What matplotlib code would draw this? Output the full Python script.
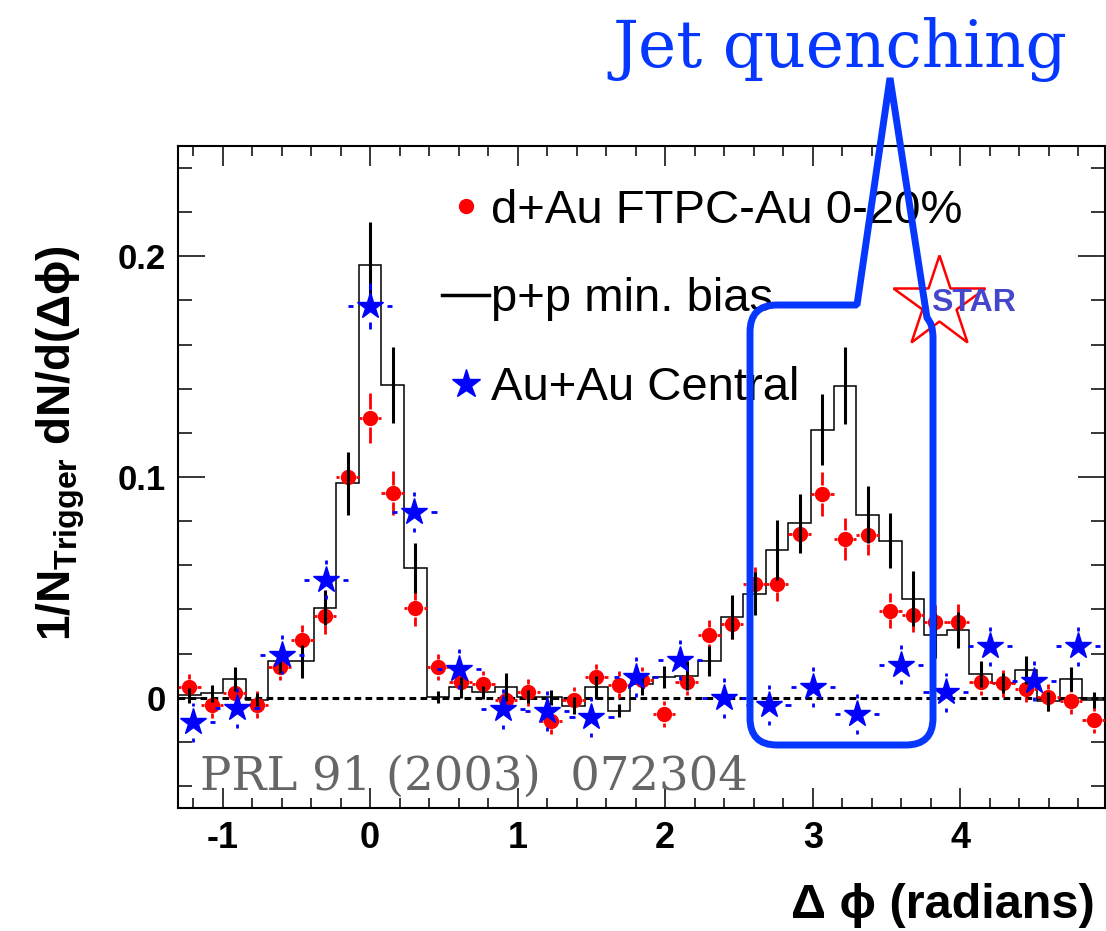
import numpy as np
import matplotlib
matplotlib.use('Agg')
import matplotlib.pyplot as plt
from matplotlib.lines import Line2D
from matplotlib.path import Path
from matplotlib.patches import PathPatch
from matplotlib.transforms import Affine2D

plt.rcParams['font.family'] = ['Liberation Sans', 'DejaVu Sans']
plt.rcParams['mathtext.fontset'] = 'custom'
plt.rcParams['mathtext.rm'] = 'Liberation Sans'
plt.rcParams['mathtext.bf'] = 'Liberation Sans:bold'
plt.rcParams['axes.unicode_minus'] = False

# d+Au and p+p share 41 bins over 2 pi
step = 2 * np.pi / 41
dphi = np.arange(-8, 33) * step
edges = np.append(dphi - step / 2, dphi[-1] + step / 2)

# d+Au FTPC-Au 0-20%
dau = [0.0047, -0.0032, 0.0020, -0.0032, 0.0138, 0.0260, 0.0370, 0.1000, 0.1267, 0.0926,
       0.0405, 0.0138, 0.0070, 0.0062, -0.0010, 0.0024, -0.0105, -0.0010, 0.0092, 0.0059,
       0.0080, -0.0074, 0.0070, 0.0282, 0.0335, 0.0514, 0.0517, 0.0741, 0.0923, 0.0721,
       0.0736, 0.0395, 0.0376, 0.0342, 0.0345, 0.0070, 0.0065, 0.0040, 0.0001, -0.0014,
       -0.0101]
dau_err = [0.006, 0.006, 0.006, 0.006, 0.006, 0.007, 0.008, 0.010, 0.0114, 0.010,
           0.008, 0.006, 0.006, 0.006, 0.006, 0.006, 0.006, 0.006, 0.006, 0.006,
           0.006, 0.006, 0.006, 0.007, 0.007, 0.008, 0.008, 0.0075, 0.010, 0.0095,
           0.009, 0.008, 0.008, 0.008, 0.008, 0.006, 0.006, 0.006, 0.006, 0.006,
           0.006]

# p+p min. bias (histogram)
pp = [0.0010, 0.0020, 0.0085, -0.0010, 0.0164, 0.0164, 0.0408, 0.0971, 0.1959, 0.1415,
      0.0588, 0.0001, 0.0047, 0.0024, 0.0047, 0.0005, 0.0001, -0.0036, 0.0047, -0.0059,
      0.0060, 0.0092, 0.0100, 0.0168, 0.0365, 0.0471, 0.0668, 0.0790, 0.1214, 0.1414,
      0.0830, 0.0711, 0.0449, 0.0282, 0.0305, 0.0108, 0.0065, 0.0126, -0.0017, 0.0085,
      -0.0010]
pp_err = [0.0034, 0.0038, 0.0053, 0.0030, 0.0050, 0.0075, 0.0080, 0.0144, 0.0197, 0.0172,
          0.0114, 0.0027, 0.0047, 0.0030, 0.0064, 0.0030, 0.0035, 0.0040, 0.0053, 0.0030,
          0.0050, 0.0050, 0.0064, 0.0068, 0.0098, 0.0098, 0.0136, 0.0134, 0.0160, 0.0173,
          0.0131, 0.0125, 0.0125, 0.0100, 0.0082, 0.0060, 0.0045, 0.0062, 0.0044, 0.0053,
          0.0035]

# Au+Au central, 0.3 rad bins
auau_dphi = [-1.2, -0.9, -0.6, -0.3, 0.0, 0.3, 0.6, 0.9, 1.2, 1.5, 1.8,
             2.1, 2.4, 2.7, 3.0, 3.3, 3.6, 3.9, 4.2, 4.5, 4.8]
auau = [-0.0112, -0.0047, 0.0195, 0.0535, 0.1774, 0.0842, 0.0130, -0.0052, -0.0059, -0.0089, 0.0095,
        0.0171, -0.0001, -0.0032, 0.0047, -0.0074, 0.0150, 0.0024, 0.0232, 0.0077, 0.0232]
auau_err = [0.009] * 4 + [0.0105] + [0.009] * 16

xtick_labels = ['-1', '0', '1', '2', '3', '4']
ytick_labels = ['0', '0.1', '0.2']
legend_labels = ['d+Au FTPC-Au 0-20%', 'p+p min. bias', 'Au+Au Central']

red = '#ff0000'
blue = '#0000ff'
callout = '#0537ff'

W, H = 1106, 931
fig = plt.figure(figsize=(W / 100, H / 100), dpi=100)
ax = fig.add_axes([178 / W, 1 - 808 / H, (1105 - 178) / W, (808 - 146) / H])


def gapped_errors(x, y, xerr, yerr, gx, gy, color, lw, z):
    # ROOT style error bars: nothing drawn under the marker
    x = np.asarray(x); y = np.asarray(y)
    xerr = np.broadcast_to(xerr, x.shape); yerr = np.broadcast_to(yerr, y.shape)
    ax.hlines(y, x - xerr, x - np.minimum(gx, xerr), color=color, lw=lw, zorder=z)
    ax.hlines(y, x + np.minimum(gx, xerr), x + xerr, color=color, lw=lw, zorder=z)
    ax.vlines(x, y - yerr, y - np.minimum(gy, yerr), color=color, lw=lw, zorder=z)
    ax.vlines(x, y + np.minimum(gy, yerr), y + yerr, color=color, lw=lw, zorder=z)


ax.axhline(0, color='k', lw=2.2, ls=(0, (2.2, 1.4)), zorder=1)
ax.stairs(pp, edges, baseline=None, color='k', lw=1.1, zorder=2)

gapped_errors(dphi, dau, step / 2, dau_err, 0.055, 0.0039, red, 2, 3)
ax.plot(dphi, dau, 'o', color=red, ms=10, zorder=3.5)

ax.vlines(dphi, np.array(pp) - pp_err, np.array(pp) + pp_err, color='k', lw=2.2, zorder=4)

gapped_errors(auau_dphi, auau, 0.15, auau_err, 0.115, 0.0072, blue, 2, 5)
ax.plot(auau_dphi, auau, '*', color=blue, ms=19.5, zorder=5.5)

ax.set_xlim(edges[0], edges[-1])
ax.set_ylim(-0.05, 0.25)
ax.set_xticks([-1, 0, 1, 2, 3, 4])
ax.set_xticklabels(xtick_labels, fontsize=26, fontweight='bold')
ax.set_xticks(np.arange(-1.2, 4.9, 0.2), minor=True)
ax.set_yticks([0, 0.1, 0.2])
ax.set_yticklabels(ytick_labels, fontsize=25, fontweight='bold')
ax.set_yticks(np.arange(-0.04, 0.25, 0.02), minor=True)
ax.tick_params(which='both', direction='in', top=True, right=True, width=1.1)
ax.xaxis.set_tick_params(which='major', length=14.4, pad=9)
ax.xaxis.set_tick_params(which='minor', length=7.2)
ax.yaxis.set_tick_params(which='major', length=19.5, pad=9)
ax.yaxis.set_tick_params(which='minor', length=10)
for s in ax.spines.values():
    s.set_linewidth(1.5)

# legend
handles = [Line2D([], [], marker='o', ls='none', color=red, ms=10),
           Line2D([], [], color='k', lw=2.5),
           Line2D([], [], marker='*', ls='none', color=blue, ms=21)]
ax.legend(handles, legend_labels, loc='center left', bbox_to_anchor=(442 / W, 1 - 299.5 / H),
          bbox_transform=fig.transFigure, frameon=False, fontsize=34, borderpad=0,
          borderaxespad=0, handlelength=1.0, handletextpad=0.03, labelspacing=0.95)

fig.text(61 / W, 1 - 443 / H, '1/N$_{\\mathbf{Trigger}}$ dN/d(\u0394\u03d5)', rotation=90,
         ha='center', va='center', fontsize=33, fontweight='bold')
fig.text(1095 / W, 1 - 905 / H, '\u0394 \u03d5 (radians)', ha='right', va='center',
         fontsize=35, fontweight='bold')

fig.text(200 / W, 1 - 790 / H, 'PRL 91 (2003)  072304', family='DejaVu Serif',
         color='#666666', fontsize=33.5, ha='left', va='baseline')

# STAR logo
fig.add_artist(Line2D([939 / W], [1 - 303 / H], transform=fig.transFigure, marker='*',
                      ms=69, mfc='none', mec=red, mew=1.8))
fig.text(931 / W, 1 - 303 / H, 'STAR', color='#4646cc', fontsize=23, fontweight='bold',
         ha='left', va='center')

# jet quenching call-out
fig.text(612 / W, 1 - 67 / H, 'Jet quenching', family='DejaVu Serif', color=callout,
         fontsize=46.5, ha='left', va='baseline')
pix = Affine2D().scale(1 / W, -1 / H).translate(0, 1) + fig.transFigure
verts = [(750, 332), (750, 305), (777, 305), (857, 305), (890, 78), (927, 318),
         (933, 324), (933, 338), (933, 718), (933, 745), (906, 745), (777, 745),
         (750, 745), (750, 718), (750, 332)]
codes = [Path.MOVETO, Path.CURVE3, Path.CURVE3, Path.LINETO, Path.LINETO, Path.LINETO,
         Path.CURVE3, Path.CURVE3, Path.LINETO, Path.CURVE3, Path.CURVE3, Path.LINETO,
         Path.CURVE3, Path.CURVE3, Path.CLOSEPOLY]
fig.add_artist(PathPatch(Path(verts, codes), transform=pix, fill=False, ec=callout,
                         lw=5, joinstyle='bevel', zorder=10))

fig.savefig('out.png', dpi=100)
